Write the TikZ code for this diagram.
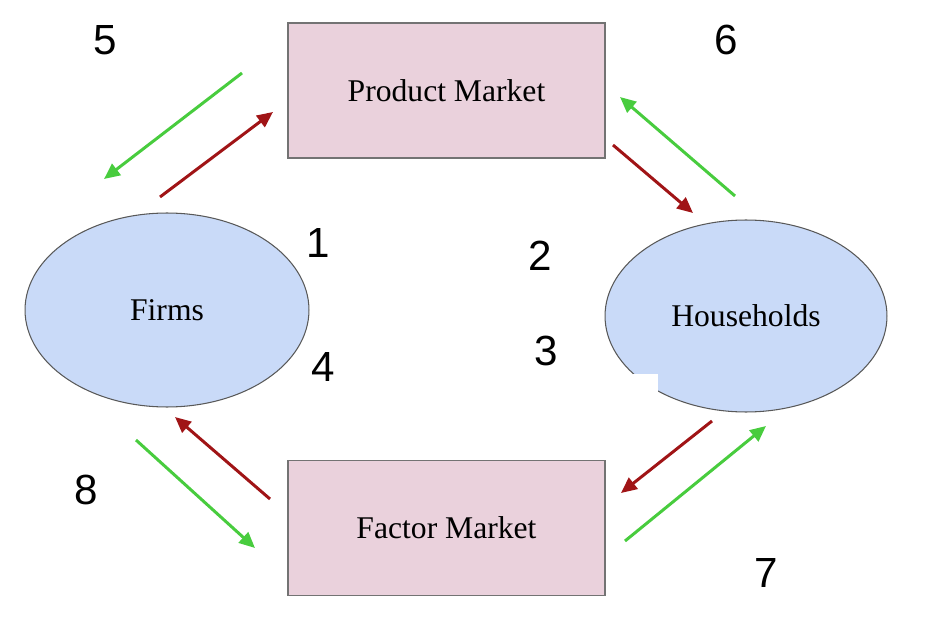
\documentclass[tikz,border=0pt]{standalone}
\usepackage{fontspec}
\setmainfont{Liberation Serif}
\newfontfamily\numfont{Liberation Sans}
\usetikzlibrary{shapes.geometric,arrows.meta}
\definecolor{flowgreen}{RGB}{72,204,62}
\definecolor{flowred}{RGB}{160,20,22}
\definecolor{marketpink}{RGB}{234,209,220}
\definecolor{agentblue}{RGB}{201,218,248}
\begin{document}
\begin{tikzpicture}[x=0.02cm,y=-0.02cm]
% Estilos
\tikzset{market box/.style={rectangle,draw=gray!90!black,line width=0.8pt,fill=marketpink,minimum width=6.34cm,minimum height=2.7cm,inner sep=0pt,font=\fontsize{18}{20}\selectfont},
agent/.style={ellipse,draw=black!65,line width=0.6pt,fill=agentblue,inner sep=0pt,font=\fontsize{18}{20}\selectfont},
flow/.style={line width=1.7pt,-{Triangle[length=9pt,width=8pt]}}}
\useasboundingbox (0,0) rectangle (930,628);

\node[market box] (product) at (446.5,90.5) {Product Market};
\node[market box] (factor) at (446.5,528) {Factor Market};
\node[agent,minimum width=5.68cm,minimum height=3.88cm] (firms) at (167,310) {Firms};
\node[agent,minimum width=5.64cm,minimum height=3.84cm] (households) at (746,316) {Households};
\fill[white] (633,374) rectangle (658,402);

% Numeros
\foreach \n/\x/\y in {5/105/40,6/726/40,1/318/243,2/540/256,4/323/367,3/546/351,8/86/490,7/766/573}
    \node[font=\numfont\fontsize{24}{24}\selectfont] (n\n) at (\x,\y) {\n};

% Flechas
\foreach \a/\x/\y in {ga/242/73,gb/104/179,ra/160/197,rb/273/112,rc/613/145,rd/693/213,gc/735/196,gd/620/97,
    re/712/421,rf/621/493,ge/625/541,gf/766/426,rg/270/499,rh/175/417,gg/136/440,gh/255/548}
    \coordinate (\a) at (\x,\y);

\draw[flow,flowgreen] (ga) -- (gb);
\draw[flow,flowred] (ra) -- (rb);
\draw[flow,flowred] (rc) -- (rd);
\draw[flow,flowgreen] (gc) -- (gd);
\draw[flow,flowred] (re) -- (rf);
\draw[flow,flowgreen] (ge) -- (gf);
\draw[flow,flowred] (rg) -- (rh);
\draw[flow,flowgreen] (gg) -- (gh);

\end{tikzpicture}
\end{document}
